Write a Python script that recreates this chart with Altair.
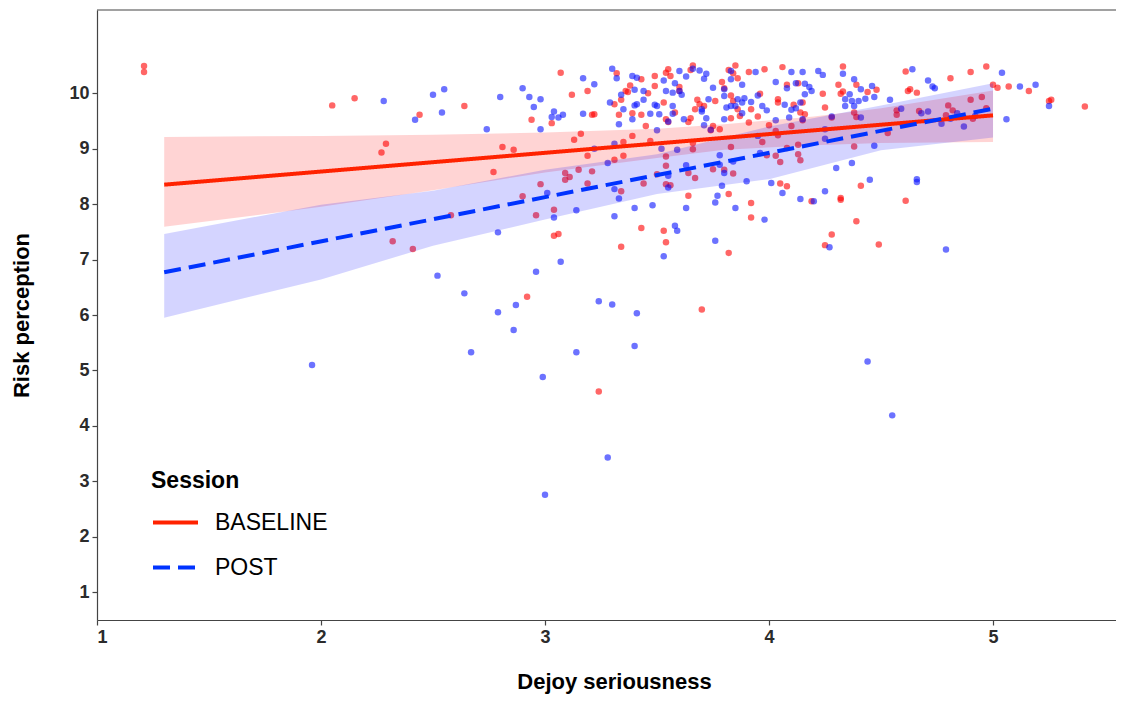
import altair as alt
import pandas as pd

FONT = "Liberation Sans"

sessions = ["BASELINE", "POST"]

baseline_pts = [
    (1.21, 10.49), (1.21, 10.38), (2.05, 9.78), (2.15, 9.91), (2.44, 9.61), (2.29, 9.09), (2.27, 8.93),
    (2.32, 7.33), (2.41, 7.19), (2.64, 9.77), (3.07, 10.37), (3.12, 9.97), (3.19, 10.04), (2.94, 9.52),
    (3.03, 9.46), (3.21, 9.61), (3.22, 9.62), (3.13, 9.16), (3.16, 9.27), (2.81, 9.03), (2.86, 8.98),
    (2.77, 8.58), (3.19, 8.87), (3.09, 8.56), (3.11, 8.49), (3.09, 8.44), (3.15, 8.62), (3.21, 8.59),
    (2.98, 8.36), (3.19, 8.37), (2.90, 8.14), (3.04, 7.90), (2.96, 7.80), (2.58, 7.80), (3.32, 10.36),
    (3.31, 9.80), (3.34, 9.88), (3.36, 10.04), (3.38, 10.14), (3.37, 10.02), (3.43, 10.25), (3.46, 10.00),
    (3.49, 10.31), (3.49, 10.13), (3.39, 9.64), (3.43, 9.61), (3.33, 9.61), (3.45, 9.41), (3.39, 9.23),
    (3.35, 9.12), (3.35, 8.87), (3.31, 8.80), (3.47, 9.14), (3.50, 8.54), (3.44, 8.37), (3.34, 8.23),
    (3.43, 7.57), (3.04, 7.43), (3.06, 7.46), (3.34, 7.23), (3.53, 7.52), (3.54, 7.31), (2.92, 6.33),
    (3.24, 4.62), (3.92, 8.02), (3.92, 7.76), (3.82, 7.12), (3.70, 6.10), (4.32, 8.08), (4.39, 7.69),
    (4.28, 7.45), (4.25, 7.26), (4.49, 7.27), (4.61, 8.06), (4.61, 10.39), (4.81, 10.27), (4.90, 10.38),
    (4.97, 10.48), (4.62, 10.04), (4.63, 10.07), (4.66, 10.01), (5.00, 10.15), (5.02, 10.10), (5.07, 10.12),
    (5.16, 10.04), (5.25, 9.86), (5.26, 9.88), (5.41, 9.76), (4.90, 9.88), (4.95, 9.93), (4.80, 9.78),
    (4.57, 9.69), (4.57, 9.61), (4.67, 9.68), (4.82, 9.69), (4.79, 9.60), (4.97, 9.73), (4.91, 9.54),
    (4.53, 9.28), (3.55, 10.43), (3.54, 10.37), (3.56, 10.31), (3.66, 10.50), (3.65, 10.42), (3.82, 10.42),
    (3.85, 10.50), (3.84, 10.36), (3.86, 10.27), (3.91, 10.38), (3.98, 10.43), (4.06, 10.47), (4.33, 10.48),
    (4.08, 10.15), (4.13, 10.18), (4.24, 9.99), (4.31, 10.15), (4.33, 10.03), (4.39, 10.15), (4.44, 10.02),
    (4.48, 10.06), (3.53, 9.83), (3.54, 9.53), (3.58, 9.65), (3.60, 10.04), (3.60, 10.11), (3.67, 9.71),
    (3.69, 9.80), (3.71, 9.77), (3.68, 9.88), (3.76, 9.86), (3.79, 10.20), (3.80, 10.09), (3.83, 9.96),
    (3.84, 9.86), (3.86, 9.71), (3.87, 9.59), (3.83, 9.55), (3.92, 9.71), (3.95, 9.58), (3.96, 9.99),
    (4.04, 9.89), (4.04, 9.83), (4.11, 9.79), (4.15, 9.83), (4.14, 9.65), (4.16, 9.62), (4.15, 9.51),
    (4.25, 9.74), (4.28, 9.56), (4.32, 9.99), (4.38, 9.65), (4.39, 9.57), (3.55, 9.48), (3.64, 9.48),
    (3.65, 9.55), (3.74, 9.33), (3.78, 9.35), (3.75, 9.41), (3.91, 9.47), (4.00, 9.42), (4.03, 9.32),
    (4.10, 9.41), (4.04, 9.24), (3.97, 9.12), (3.66, 9.10), (3.66, 8.99), (3.83, 9.03), (3.54, 8.86),
    (3.54, 8.69), (3.64, 8.56), (3.67, 8.47), (3.54, 8.36), (3.56, 8.34), (3.84, 8.55), (3.80, 8.62),
    (3.75, 8.63), (3.99, 8.88), (4.03, 8.87), (4.05, 8.76), (4.08, 9.01), (4.13, 8.90), (4.14, 8.79),
    (4.13, 9.07), (4.05, 8.37), (4.08, 8.32), (4.38, 9.04), (4.41, 8.33), (4.32, 8.11), (3.64, 8.15),
    (3.82, 8.18), (4.19, 8.05),
]

post_pts = [
    (2.28, 9.86), (2.42, 9.52), (2.50, 9.97), (2.55, 10.07), (2.54, 9.65), (2.52, 6.71), (1.96, 5.10),
    (2.74, 9.35), (2.80, 9.93), (2.90, 10.09), (2.93, 9.93), (2.98, 9.89), (2.95, 9.75), (3.04, 9.67),
    (3.03, 9.57), (3.06, 9.56), (3.08, 9.61), (2.98, 9.35), (3.17, 10.27), (3.22, 10.16), (3.17, 9.63),
    (3.30, 10.44), (3.32, 10.27), (3.39, 10.31), (3.41, 10.28), (3.34, 9.97), (3.35, 9.71), (3.29, 9.83),
    (3.33, 9.44), (3.39, 9.53), (3.40, 9.78), (3.41, 9.80), (3.44, 9.88), (3.44, 10.04), (3.40, 10.06),
    (3.47, 9.63), (3.49, 9.79), (3.50, 9.77), (3.50, 9.33), (3.31, 9.09), (3.22, 9.00), (3.28, 8.74),
    (3.31, 8.27), (3.33, 8.10), (3.48, 7.98), (3.31, 7.78), (3.14, 7.89), (3.04, 7.76), (3.01, 8.20),
    (3.51, 9.62), (3.57, 9.63), (3.55, 8.51), (3.52, 9.00), (3.40, 7.93), (2.79, 7.49), (3.58, 7.61),
    (3.59, 7.52), (3.53, 7.06), (3.07, 6.96), (2.96, 6.78), (2.64, 6.39), (2.87, 6.18), (2.79, 6.05),
    (3.24, 6.25), (3.30, 6.19), (3.41, 6.03), (2.86, 5.73), (2.67, 5.33), (3.14, 5.33), (3.40, 5.44),
    (2.99, 4.88), (3.00, 2.76), (3.28, 3.43), (3.63, 7.93), (3.76, 8.03), (3.85, 7.93), (3.98, 7.72),
    (3.76, 7.34), (4.14, 8.09), (4.20, 8.05), (4.27, 7.22), (4.44, 5.16), (4.55, 4.19), (4.79, 7.18),
    (4.66, 8.45), (4.66, 8.40), (4.64, 10.43), (4.71, 10.23), (4.73, 10.12), (4.74, 10.09), (5.04, 10.37),
    (5.12, 10.12), (5.19, 10.15), (5.25, 9.77), (4.54, 9.88), (4.59, 9.72), (4.68, 9.64), (4.71, 9.67),
    (4.77, 9.45), (4.84, 9.64), (4.87, 9.40), (4.81, 9.54), (4.92, 9.59), (5.06, 9.53), (3.53, 10.23),
    (3.54, 10.04), (3.57, 10.01), (3.60, 10.40), (3.63, 10.30), (3.66, 10.44), (3.69, 10.41), (3.72, 10.35),
    (3.71, 10.26), (3.58, 10.18), (3.60, 10.04), (3.61, 9.97), (3.83, 10.40), (3.83, 10.25), (3.88, 10.15),
    (3.94, 10.38), (4.03, 10.20), (4.10, 10.38), (4.15, 10.38), (4.22, 10.40), (4.24, 10.33), (4.08, 10.09),
    (4.12, 10.18), (4.16, 10.17), (4.18, 10.11), (4.19, 10.04), (4.16, 9.98), (4.33, 10.35), (4.38, 10.25),
    (4.46, 10.13), (4.41, 10.07), (4.36, 9.98), (4.34, 9.89), (4.37, 9.86), (4.40, 9.86), (4.43, 9.90),
    (4.47, 9.93), (4.34, 9.77), (4.38, 9.77), (3.57, 9.77), (3.70, 9.71), (3.70, 9.67), (3.73, 9.89),
    (3.75, 10.10), (3.80, 10.07), (3.80, 9.95), (3.81, 9.74), (3.83, 9.77), (3.85, 9.77), (3.86, 9.89),
    (3.89, 9.91), (3.88, 9.83), (3.92, 9.84), (3.95, 9.96), (3.97, 9.77), (3.99, 9.69), (3.88, 9.64),
    (3.80, 9.53), (3.72, 9.55), (3.71, 9.42), (3.74, 9.34), (3.62, 9.53), (3.55, 9.49), (4.03, 9.51),
    (4.07, 9.79), (4.10, 9.70), (4.12, 9.73), (4.14, 9.83), (4.09, 9.56), (4.15, 9.53), (4.25, 9.35),
    (4.28, 9.58), (3.95, 9.23), (4.25, 9.18), (4.41, 9.56), (4.47, 9.05), (3.59, 8.98), (3.84, 8.77),
    (3.78, 8.88), (3.96, 8.92), (3.63, 8.70), (3.78, 8.71), (3.80, 8.56), (3.55, 8.30), (3.79, 8.33),
    (3.90, 8.41), (4.01, 8.38), (4.06, 8.20), (3.77, 8.15), (4.25, 8.23), (4.30, 8.65), (4.37, 8.74),
    (4.45, 8.44),
]

# fitted regression lines
fit_x = [1.3, 5.0]
baseline_fit = [8.35, 9.60]
post_fit = [6.77, 9.72]

# confidence bands
baseline_band_x = [1.3, 2.0, 2.5, 3.0, 3.5, 3.8, 4.2, 4.5, 5.0]
baseline_lo = [7.59, 7.95, 8.25, 8.57, 8.83, 8.98, 9.06, 9.10, 9.12]
baseline_hi = [9.21, 9.23, 9.25, 9.29, 9.36, 9.44, 9.58, 9.73, 10.05]
post_band_x = [1.3, 2.0, 2.5, 3.0, 3.5, 4.0, 4.5, 5.0]
post_lo = [5.95, 6.64, 7.25, 7.72, 8.18, 8.45, 8.97, 9.20]
post_hi = [7.46, 7.99, 8.24, 8.62, 8.90, 9.40, 9.78, 10.18]

pts = pd.DataFrame(
    [{"x": a, "y": b, "grp": sessions[0]} for a, b in baseline_pts]
    + [{"x": a, "y": b, "grp": sessions[1]} for a, b in post_pts]
)
lines = pd.DataFrame(
    [{"x": a, "y": b, "Session": sessions[0]} for a, b in zip(fit_x, baseline_fit)]
    + [{"x": a, "y": b, "Session": sessions[1]} for a, b in zip(fit_x, post_fit)]
)
bands = pd.DataFrame(
    [{"x": a, "lo": l, "hi": h, "band": sessions[0]} for a, l, h in zip(baseline_band_x, baseline_lo, baseline_hi)]
    + [{"x": a, "lo": l, "hi": h, "band": sessions[1]} for a, l, h in zip(post_band_x, post_lo, post_hi)]
)

W, H = 1019, 610
xscale = alt.Scale(domain=[1.0, 5.549], nice=False, zero=False)
yscale = alt.Scale(domain=[0.5, 11.5], nice=False, zero=False)

xaxis = alt.Axis(values=[1, 2, 3, 4, 5], format="d", title="Dejoy seriousness",
                 titleX=517, titleY=68, titleBaseline="alphabetic")
yaxis = alt.Axis(values=list(range(1, 11)), format="d", title="Risk perception",
                 titleX=-69, titleY=305, titleBaseline="alphabetic", titleAngle=-90)

points = alt.Chart(pts).mark_circle(size=42, opacity=0.6).encode(
    x=alt.X("x:Q", scale=xscale, axis=xaxis),
    y=alt.Y("y:Q", scale=yscale, axis=yaxis),
    color=alt.Color("grp:N", scale=alt.Scale(domain=sessions, range=["#ff0000", "#0a14ff"]), legend=None),
)

band = alt.Chart(bands).mark_area(opacity=0.17).encode(
    x="x:Q",
    y="lo:Q",
    y2="hi:Q",
    fill=alt.Fill("band:N", scale=alt.Scale(domain=sessions, range=["#ff0000", "#0000ff"]), legend=None),
    detail="band:N",
)

leg = alt.Legend(title="Session", orient="none", legendX=54, legendY=460)
fit = alt.Chart(lines).mark_line(strokeWidth=4).encode(
    x="x:Q",
    y="y:Q",
    stroke=alt.Stroke("Session:N", scale=alt.Scale(domain=sessions, range=["#ff2200", "#0033ff"]),
                      legend=leg),
    strokeDash=alt.StrokeDash("Session:N", scale=alt.Scale(domain=sessions, range=[[1, 0], [17, 8]]),
                              legend=leg),
)

border_top = alt.Chart(pd.DataFrame({"s": [0]})).mark_rule(color="#444444", strokeWidth=1.2).encode(
    x=alt.value(0), x2=alt.value(W), y=alt.value(0)
)

chart = alt.layer(points, band, fit, border_top).resolve_scale(
    color="independent", fill="independent", stroke="independent", strokeDash="independent"
).properties(
    width=W, height=H,
    autosize=alt.AutoSizeParams(type="none"),
    padding={"left": 89, "top": 2, "right": 0, "bottom": 74},
).configure_view(stroke=None).configure_axis(
    grid=False,
    domainColor="#444444",
    domainWidth=1.2,
    tickColor="#444444",
    tickSize=5,
    tickWidth=1.2,
    labelFont=FONT,
    labelFontSize=18,
    labelFontWeight="bold",
    labelColor="#2b2b2b",
    labelPadding=3,
    titleFont=FONT,
    titleFontSize=22,
    titleFontWeight="bold",
    titleColor="#000000",
).configure_legend(
    titleFont=FONT,
    titleFontSize=23,
    titleFontWeight="bold",
    titleColor="#000000",
    titlePadding=5,
    labelFont=FONT,
    labelFontSize=23,
    labelColor="#000000",
    labelOffset=15,
    symbolType="stroke",
    symbolSize=2025,
    symbolStrokeWidth=4,
    rowPadding=8,
)

chart.save("out.html", embed_options={"renderer": "svg", "actions": False})
